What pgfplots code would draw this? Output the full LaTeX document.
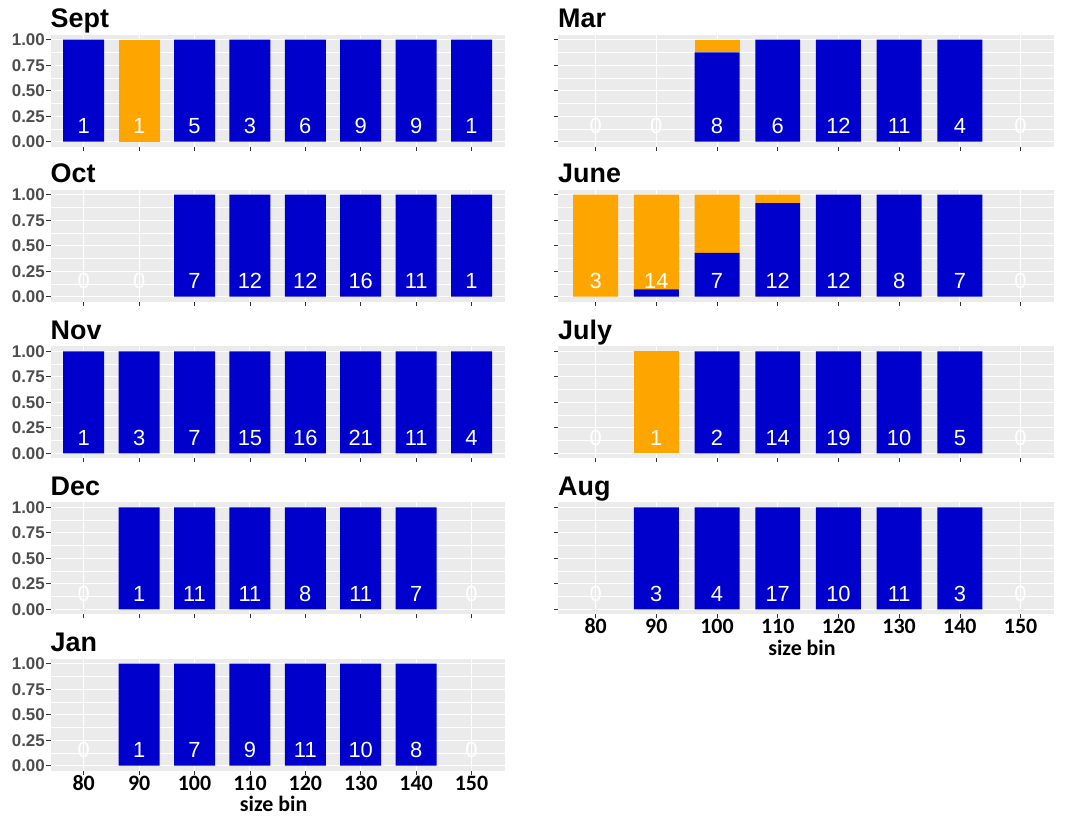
\documentclass[border=0pt]{standalone}
\usepackage{fontspec}
\setmainfont{Liberation Sans}
\newfontfamily\carlito{Carlito}
\usepackage{pgfplots}
\usepackage{pgfplotstable}
\pgfplotsset{compat=1.18}
\definecolor{barblue}{HTML}{0000CC}
\definecolor{barorange}{HTML}{FFA500}
\definecolor{panelgrey}{HTML}{EBEBEB}
\definecolor{tickgrey}{HTML}{333333}
\definecolor{labelgrey}{HTML}{4D4D4D}

% i = bin index (80,90,...,150), n = count, b = blue fraction, o = orange fraction
\pgfplotstableread{
i n b o
0 1 1 0
1 1 0 1
2 5 1 0
3 3 1 0
4 6 1 0
5 9 1 0
6 9 1 0
7 1 1 0
}\datSept
\pgfplotstableread{
i n b o
0 0 0 0
1 0 0 0
2 7 1 0
3 12 1 0
4 12 1 0
5 16 1 0
6 11 1 0
7 1 1 0
}\datOct
\pgfplotstableread{
i n b o
0 1 1 0
1 3 1 0
2 7 1 0
3 15 1 0
4 16 1 0
5 21 1 0
6 11 1 0
7 4 1 0
}\datNov
\pgfplotstableread{
i n b o
0 0 0 0
1 1 1 0
2 11 1 0
3 11 1 0
4 8 1 0
5 11 1 0
6 7 1 0
7 0 0 0
}\datDec
\pgfplotstableread{
i n b o
0 0 0 0
1 1 1 0
2 7 1 0
3 9 1 0
4 11 1 0
5 10 1 0
6 8 1 0
7 0 0 0
}\datJan
\pgfplotstableread{
i n b o
0 0 0 0
1 0 0 0
2 8 0.875 0.125
3 6 1 0
4 12 1 0
5 11 1 0
6 4 1 0
7 0 0 0
}\datMar
\pgfplotstableread{
i n b o
0 3 0 1
1 14 0.071 0.929
2 7 0.429 0.571
3 12 0.917 0.083
4 12 1 0
5 8 1 0
6 7 1 0
7 0 0 0
}\datJune
\pgfplotstableread{
i n b o
0 0 0 0
1 1 0 1
2 2 1 0
3 14 1 0
4 19 1 0
5 10 1 0
6 5 1 0
7 0 0 0
}\datJuly
\pgfplotstableread{
i n b o
0 0 0 0
1 3 1 0
2 4 1 0
3 17 1 0
4 10 1 0
5 11 1 0
6 3 1 0
7 0 0 0
}\datAug

\pgfplotsset{
  geom/.style={
    scale only axis,
    anchor=south west,
    y=102bp, ymin=-0.05, ymax=1.05,
  },
  panel/.style={
    geom,
    ybar stacked, bar width=0.74,
    axis background/.style={fill=panelgrey},
    axis x line*=bottom, axis y line*=left,
    axis line style={draw=none},
    ytick={0,0.25,0.5,0.75,1},
    minor ytick={0.125,0.375,0.625,0.875},
    xtick={0,...,7},
    xticklabels={},
    ymajorgrids, xmajorgrids, yminorgrids,
    major grid style={white, line width=0.9bp},
    minor grid style={white, line width=0.45bp},
    major tick style={color=tickgrey, line width=0.6bp},
    major tick length=4bp, minor tick length=0pt,
    tick align=outside,
    /pgf/number format/.cd, fixed, fixed zerofill, precision=2, assume math mode=true,
    /pgfplots/.cd,
    yticklabel style={font=\bfseries\fontsize{17}{17}\selectfont, text=labelgrey, inner sep=1.5bp},
    xticklabel style={font=\carlito\bfseries\fontsize{22}{22}\selectfont, text=black,
      anchor=base, inner sep=0pt, yshift=-15.5bp},
    title style={at={(0,1)}, anchor=base west, yshift=1bp, inner sep=0pt,
      font=\bfseries\fontsize{27}{27}\selectfont},
    xlabel style={at={(0.5,0)}, anchor=base, yshift=-41bp, xshift=-4bp, inner sep=0pt,
      font=\carlito\bfseries\fontsize{22}{22}\selectfont},
  },
  leftcol/.style={x=55.4bp, xmin=-0.6, xmax=7.6},
  rightcol/.style={x=60.7bp, xmin=-0.62, xmax=7.55},
  noylabels/.style={yticklabels={}},
  bottomrow/.style={xticklabels={80,90,100,110,120,130,140,150}, xlabel={size bin}},
}

% #1 column style, #2 extra style, #3 X, #4 Y, #5 title, #6 table
\newcommand\panel[6]{%
\begin{axis}[panel,#1,#2,at={(#3bp,#4bp)},title={#5}]
\addplot[fill=barblue, draw=none] table[x=i, y=b] {#6};
\addplot[fill=barorange, draw=none] table[x=i, y=o] {#6};
\end{axis}
\begin{axis}[geom,#1,hide axis,at={(#3bp,#4bp)}]
\addplot[draw=none, nodes near coords, point meta=explicit symbolic,
  every node near coord/.append style={anchor=center, text=white,
    font=\fontsize{22}{22}\selectfont, inner sep=0pt}]
  table[x=i, y expr=0.153, meta=n] {#6};
\end{axis}}

\begin{document}
\begin{tikzpicture}
\path[use as bounding box] (0,0) rectangle (1074bp,822bp);
\panel{leftcol}{}{50.5}{675.2}{Sept}{\datSept}
\panel{leftcol}{}{50.5}{520.2}{Oct}{\datOct}
\panel{leftcol}{}{50.5}{363.6}{Nov}{\datNov}
\panel{leftcol}{}{50.5}{207.6}{Dec}{\datDec}
\panel{leftcol}{bottomrow}{50.5}{51.2}{Jan}{\datJan}
\panel{rightcol}{noylabels}{558}{675.2}{Mar}{\datMar}
\panel{rightcol}{noylabels}{558}{520.2}{June}{\datJune}
\panel{rightcol}{noylabels}{558}{363.6}{July}{\datJuly}
\panel{rightcol}{noylabels,bottomrow}{558}{207.6}{Aug}{\datAug}
\end{tikzpicture}
\end{document}
